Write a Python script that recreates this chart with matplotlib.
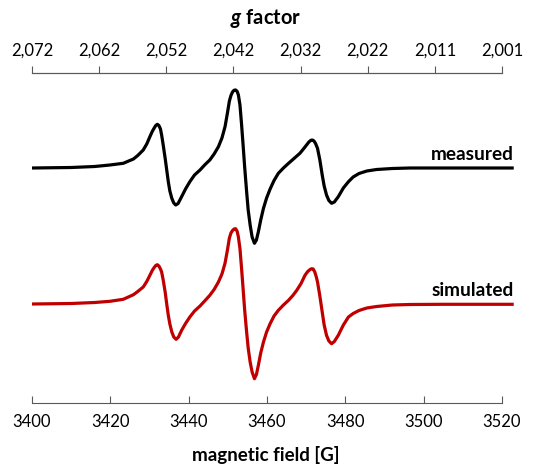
import matplotlib.pyplot as plt
import numpy as np

plt.rcParams['font.family'] = ['Lato', 'DejaVu Sans']
plt.rcParams['mathtext.fontset'] = 'custom'
plt.rcParams['mathtext.it'] = 'Lato:italic:bold'
plt.rcParams['mathtext.rm'] = 'Lato:bold'

# EPR spectra (field in G, intensity in a.u.)
field_meas = [3400, 3410, 3416, 3419.9, 3423.3, 3425.9, 3427.0, 3428.4, 3429.3, 3430.1,
              3430.7, 3431.2, 3431.6, 3432.0, 3432.4, 3432.8, 3433.1, 3433.5, 3434.0, 3434.4,
              3434.8, 3435.2, 3435.7, 3436.2, 3436.7, 3437.3, 3438.2, 3439.2, 3440.3, 3441.5,
              3442.9, 3444.2, 3445.4, 3446.5, 3447.6, 3448.5, 3449.3, 3449.9, 3450.4, 3450.8,
              3451.2, 3451.6, 3452.0, 3452.4, 3452.7, 3453.1, 3453.5, 3453.9, 3454.3, 3454.8,
              3455.2, 3455.7, 3456.2, 3456.8, 3457.3, 3457.8, 3458.4, 3459.1, 3459.9, 3460.8,
              3461.8, 3462.9, 3464.2, 3465.5, 3466.9, 3468.4, 3469.2, 3470.1, 3470.7, 3471.2,
              3471.6, 3472.0, 3472.4, 3472.9, 3473.5, 3474.1, 3474.6, 3475.2, 3475.8, 3476.5,
              3477.2, 3478.2, 3479.5, 3480.8, 3482.0, 3483.5, 3485.5, 3488.0, 3492, 3496.5,
              3505, 3523]
measured = [0, 0.5, 1.5, 3, 4.7, 9, 12.5, 18, 24, 31.3,
            36.5, 40, 42.5, 43.7, 42.5, 39, 33, 23, 9.7, -2,
            -13.7, -23, -30.3, -35, -37, -35.5, -28.7, -21, -13.7, -7,
            -2, 3.5, 8, 14, 21.3, 30, 41.5, 55, 67, 72.5,
            76, 77.8, 78, 76.5, 73, 63, 44, 23, 1, -23.7,
            -42, -57, -69, -75.3, -72, -63.7, -52, -40.3, -30, -21,
            -12.5, -5.3, 0, 4.7, 9.5, 14.7, 18.5, 23, 26, 27.7,
            28, 27, 24.5, 19.7, 8, -7, -18, -27, -32.5, -35.3,
            -34, -28.7, -20, -13.7, -9, -5.5, -3, -1.5, -0.5, 0,
            0, 0]

field_sim = [3400, 3410, 3416, 3419.9, 3423.3, 3425.9, 3427.0, 3428.4, 3429.3, 3430.1,
             3430.7, 3431.2, 3431.6, 3432.0, 3432.4, 3432.8, 3433.1, 3433.5, 3434.0, 3434.4,
             3434.8, 3435.2, 3435.7, 3436.2, 3436.8, 3437.4, 3438.2, 3439.2, 3440.3, 3441.5,
             3442.9, 3444.2, 3445.4, 3446.5, 3447.6, 3448.5, 3449.3, 3449.9, 3450.4, 3450.8,
             3451.2, 3451.6, 3452.0, 3452.4, 3452.7, 3453.1, 3453.5, 3453.9, 3454.3, 3454.8,
             3455.2, 3455.7, 3456.2, 3456.8, 3457.3, 3457.8, 3458.4, 3459.1, 3459.9, 3460.8,
             3461.8, 3462.9, 3464.2, 3465.5, 3466.6, 3467.6, 3468.7, 3469.7, 3470.4, 3471.0,
             3471.4, 3471.8, 3472.2, 3472.6, 3472.9, 3473.5, 3474.1, 3474.6, 3475.2, 3475.8,
             3476.5, 3477.2, 3478.2, 3479.5, 3480.8, 3482.0, 3483.5, 3485.5, 3488.0, 3492,
             3496.5, 3505, 3523]
simulated = [0, 0.5, 1.5, 2.7, 4.7, 9.3, 12.5, 17, 22.5, 28.7,
             33.5, 36.5, 38.5, 39.3, 38, 35, 32, 24, 12, 0,
             -11.3, -20, -28, -33, -35.3, -33, -26.3, -19.5, -13, -7,
             -2, 3.5, 8.7, 14.5, 22, 30, 41, 54, 66, 71,
             73.5, 75, 75.3, 72.5, 67, 55.3, 36, 15.3, -6, -28,
             -44, -58, -68, -74.7, -70.5, -61.3, -49, -38, -28, -19.7,
             -12, -6.3, -1, 3.7, 8.5, 13.7, 20.5, 28.7, 32.5, 34.5,
             35.3, 35, 32, 27, 22, 8, -8, -21, -31.3, -37,
             -39.7, -37.5, -31.3, -21, -13, -9.5, -6.5, -4, -2.5, -1,
             -0.5, -0.3, -0.3]

field_ticks = [3400, 3420, 3440, 3460, 3480, 3500, 3520]
g_labels = ['2,072', '2,062', '2,052', '2,042', '2,032', '2,022', '2,011', '2,001']

offset = 136
axis_col = '#595959'

fig = plt.figure(figsize=(5.35, 4.66), dpi=100)
ax = fig.add_axes([32 / 535, 63 / 466, 482 / 535, 330 / 466])

ax.plot(field_meas, np.array(measured) + offset, color='black', lw=2.3,
        solid_joinstyle='round', solid_capstyle='butt')
ax.plot(field_sim, simulated, color='#C00000', lw=2.3,
        solid_joinstyle='round', solid_capstyle='butt')

ax.set_xlim(3400, 3523.07)
ax.set_ylim(-99, 231)

ax.text(3523, offset + 8, 'measured', ha='right', va='baseline',
        fontsize=13.7, fontweight='bold')
ax.text(3523, 8, 'simulated', ha='right', va='baseline',
        fontsize=13.7, fontweight='bold')

for s in ['left', 'right']:
    ax.spines[s].set_visible(False)
for s in ['top', 'bottom']:
    ax.spines[s].set_bounds(3400, 3520)
    ax.spines[s].set_color(axis_col)
ax.set_yticks([])

ax.set_xticks(field_ticks)
ax.tick_params(axis='x', direction='in', length=5, color=axis_col,
               labelsize=12, pad=8)
ax.set_xlabel('magnetic field [G]', fontsize=13.5, fontweight='bold')
ax.xaxis.set_label_coords((266 - 32) / 482, -0.13)

top = ax.twiny()
top.set_xlim(ax.get_xlim())
for s in ['left', 'right', 'bottom']:
    top.spines[s].set_visible(False)
top.spines['top'].set_bounds(3400, 3520)
top.spines['top'].set_color(axis_col)
top.set_xticks(np.linspace(3400, 3520, len(g_labels)))
top.set_xticklabels(g_labels)
top.tick_params(axis='x', direction='out', length=5, color=axis_col,
                labelsize=12, pad=5)
top.set_xlabel(r'$\mathit{g}$ factor', fontsize=14.5, fontweight='bold')
top.xaxis.set_label_coords((266 - 32) / 482, 1.15)

fig.savefig('out.png', dpi=100)
